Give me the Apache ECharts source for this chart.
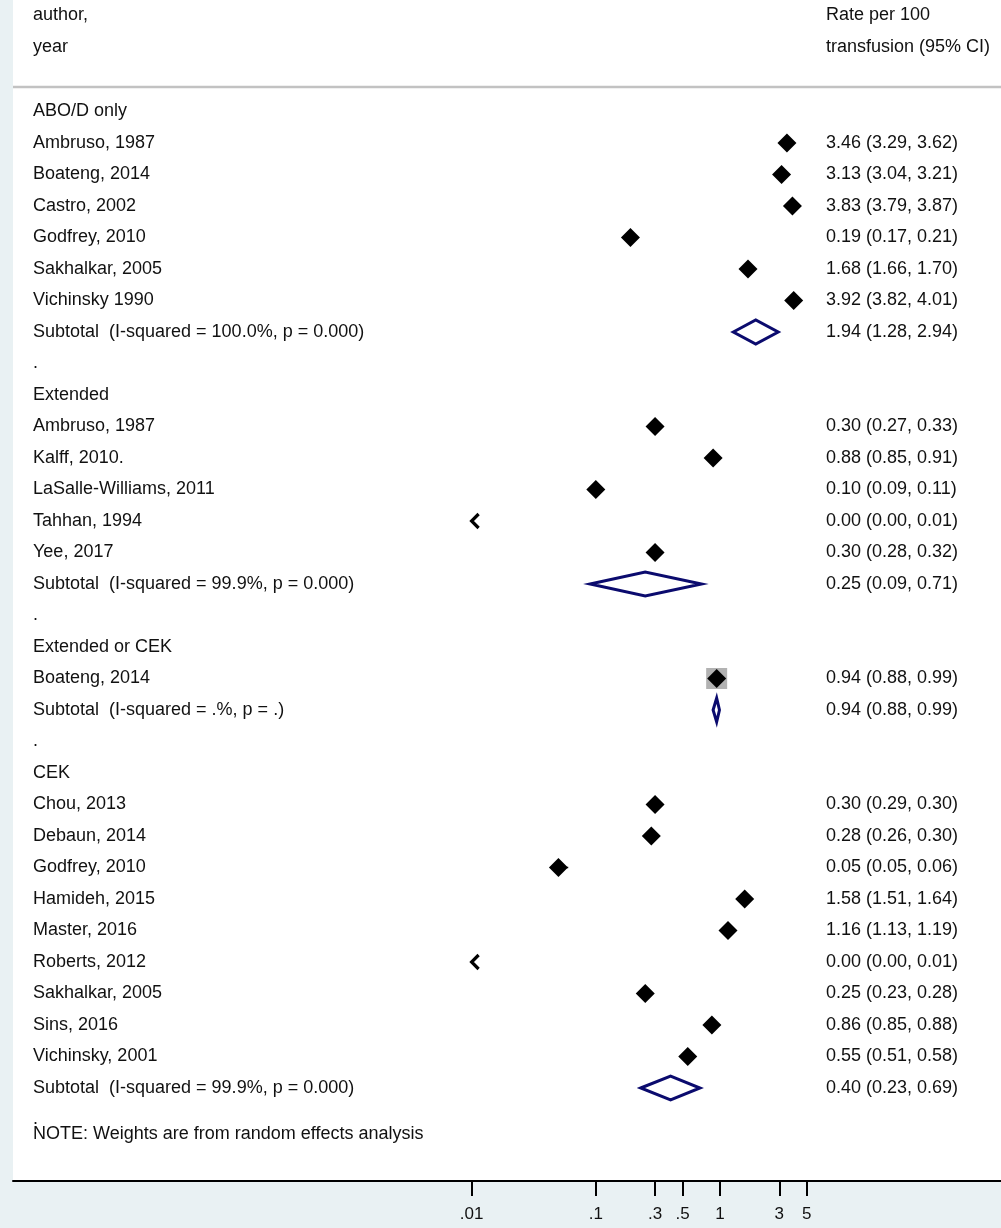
<!DOCTYPE html>
<html><head><meta charset="utf-8">
<script src="https://cdn.jsdelivr.net/npm/echarts@6/dist/echarts.min.js"></script>
<style>html,body{margin:0;padding:0;background:#e9f1f3}#c{width:1001px;height:1228px}</style>
</head><body><div id="c"></div>
<script>
// ---------------- DATA ----------------
const groupNames = ['ABO/D only', 'Extended', 'Extended or CEK', 'CEK'];
const studyLabels = [
  'Ambruso, 1987', 'Boateng, 2014', 'Castro, 2002', 'Godfrey, 2010', 'Sakhalkar, 2005', 'Vichinsky 1990',
  'Ambruso, 1987', 'Kalff, 2010.', 'LaSalle-Williams, 2011', 'Tahhan, 1994', 'Yee, 2017',
  'Boateng, 2014',
  'Chou, 2013', 'Debaun, 2014', 'Godfrey, 2010', 'Hamideh, 2015', 'Master, 2016', 'Roberts, 2012',
  'Sakhalkar, 2005', 'Sins, 2016', 'Vichinsky, 2001'
];
const studyGroup = [0,0,0,0,0,0, 1,1,1,1,1, 2, 3,3,3,3,3,3,3,3,3];
const studyEst = [3.46, 3.13, 3.83, 0.19, 1.68, 3.92, 0.30, 0.88, 0.10, 0.00, 0.30, 0.94, 0.30, 0.28, 0.05, 1.58, 1.16, 0.00, 0.25, 0.86, 0.55];
const studyLo  = [3.29, 3.04, 3.79, 0.17, 1.66, 3.82, 0.27, 0.85, 0.09, 0.00, 0.28, 0.88, 0.29, 0.26, 0.05, 1.51, 1.13, 0.00, 0.23, 0.85, 0.51];
const studyHi  = [3.62, 3.21, 3.87, 0.21, 1.70, 4.01, 0.33, 0.91, 0.11, 0.01, 0.32, 0.99, 0.30, 0.30, 0.06, 1.64, 1.19, 0.01, 0.28, 0.88, 0.58];
const subtotalLabels = [
  'Subtotal  (I-squared = 100.0%, p = 0.000)',
  'Subtotal  (I-squared = 99.9%, p = 0.000)',
  'Subtotal  (I-squared = .%, p = .)',
  'Subtotal  (I-squared = 99.9%, p = 0.000)'
];
const subtotalEst = [1.94, 0.25, 0.94, 0.40];
const subtotalLo  = [1.28, 0.09, 0.88, 0.23];
const subtotalHi  = [2.94, 0.71, 0.99, 0.69];
const tickValues = [0.01, 0.1, 0.3, 0.5, 1, 3, 5];
const tickLabels = ['.01', '.1', '.3', '.5', '1', '3', '5'];
const headerLeft = ['author,', 'year'];
const headerRight = ['Rate per 100', 'transfusion (95% CI)'];
const noteText = 'NOTE: Weights are from random effects analysis';

// ---------------- LAYOUT ----------------
const W = 1001, PLOT_LEFT = 13, AXIS_Y = 1181;
const X_ONE = 720, DECADE = 124.2;       // pixel of value 1, pixels per decade
const ROW0 = 111.5, ROW_H = 31.5;        // first row center, row spacing
const LEFT_TX = 33, RIGHT_TX = 826;
const NOTE_ROW_SHIFT = 0.47;
const HEADER_ROWS = [-3.06, -2.04];
const FONT = 'Liberation Sans, Arial, Helvetica, sans-serif';
const FS = 18;
const TXT = '#111111';
const NAVY = '#0b0b6e';

const xMin = Math.pow(10, (PLOT_LEFT - X_ONE) / DECADE);
const xMax = Math.pow(10, (W - X_ONE) / DECADE);
const yMin = -ROW0 / ROW_H;
const yMax = (AXIS_Y - ROW0) / ROW_H;
const axisFloor = tickValues[0];

// ---------------- BUILD ROWS ----------------
const fmt = v => v.toFixed(2);
const texts = [];
const studyPts = [];
const arrows = [];
const boxes = [];
const subPts = [];
texts.push({row: HEADER_ROWS[0], col: 0, text: headerLeft[0]});
texts.push({row: HEADER_ROWS[1], col: 0, text: headerLeft[1]});
texts.push({row: HEADER_ROWS[0], col: 1, text: headerRight[0]});
texts.push({row: HEADER_ROWS[1], col: 1, text: headerRight[1]});
let r = 0;
groupNames.forEach((g, gi) => {
  texts.push({row: r, col: 0, text: g}); r++;
  const members = studyGroup.map((s, i) => s === gi ? i : -1).filter(i => i >= 0);
  members.forEach(i => {
    texts.push({row: r, col: 0, text: studyLabels[i]});
    texts.push({row: r, col: 1, text: `${fmt(studyEst[i])} (${fmt(studyLo[i])}, ${fmt(studyHi[i])})`});
    if (studyEst[i] >= axisFloor) {
      studyPts.push([studyEst[i], r, Math.max(studyLo[i], axisFloor), studyHi[i]]);
      if (members.length === 1) boxes.push([studyEst[i], r]);
    }
    if (studyLo[i] < axisFloor) arrows.push([axisFloor, r]);
    r++;
  });
  texts.push({row: r, col: 0, text: subtotalLabels[gi]});
  texts.push({row: r, col: 1, text: `${fmt(subtotalEst[gi])} (${fmt(subtotalLo[gi])}, ${fmt(subtotalHi[gi])})`});
  subPts.push([subtotalEst[gi], r, subtotalLo[gi], subtotalHi[gi]]);
  r++;
  texts.push({row: r, col: 0, text: '.'}); r++;
});
texts.push({row: r - 1 + NOTE_ROW_SHIFT, col: 0, text: noteText});

// ---------------- CHART ----------------
const chart = echarts.init(document.getElementById('c'), null, {renderer: 'canvas'});
const tickLabelFor = v => {
  let best = 0, bd = Infinity;
  tickValues.forEach((t, i) => { const d = Math.abs(Math.log10(v) - Math.log10(t)); if (d < bd) { bd = d; best = i; } });
  return tickLabels[best];
};
chart.setOption({
  backgroundColor: '#e9f1f3',
  animation: false,
  grid: {left: PLOT_LEFT, right: 0, top: 0, height: AXIS_Y, show: true, backgroundColor: '#ffffff', borderWidth: 0, outerBoundsMode: 'none', containLabel: false},
  xAxis: {
    type: 'log', logBase: 10, min: xMin, max: xMax,
    axisLine: {show: true, onZero: false, lineStyle: {color: '#000', width: 2}},
    axisTick: {show: true, customValues: tickValues, length: 15, lineStyle: {color: '#000', width: 2}},
    axisLabel: {show: true, customValues: tickValues, formatter: v => tickLabelFor(v), color: TXT, fontSize: 17, fontFamily: FONT, margin: 25, hideOverlap: false},
    splitLine: {show: false}, minorTick: {show: false}, minorSplitLine: {show: false}
  },
  yAxis: {type: 'value', inverse: true, min: yMin, max: yMax, show: false, splitLine: {show: false}},
  graphic: [{type: 'line', z: 10, shape: {x1: PLOT_LEFT, y1: 87, x2: W, y2: 87}, style: {stroke: '#c2c2c2', lineWidth: 2.5}}],
  series: [
    { // CI lines
      type: 'custom', z: 2, data: studyPts,
      renderItem: (p, api) => {
        const a = api.coord([api.value(2), api.value(1)]);
        const b = api.coord([api.value(3), api.value(1)]);
        return {type: 'line', shape: {x1: a[0], y1: a[1], x2: b[0], y2: b[1]}, style: {stroke: '#000', lineWidth: 1.5}};
      }
    },
    { // weight boxes
      type: 'scatter', z: 3, data: boxes, symbol: 'rect', symbolSize: 21,
      itemStyle: {color: '#b2b2b2', opacity: 1}, silent: true
    },
    { // study estimates
      type: 'scatter', z: 4, data: studyPts.map(d => [d[0], d[1]]), symbol: 'diamond', symbolSize: 19,
      itemStyle: {color: '#000', opacity: 1}, silent: true
    },
    { // truncated CI arrows
      type: 'custom', z: 4, data: arrows,
      renderItem: (p, api) => {
        const c = api.coord([api.value(0), api.value(1)]);
        return {type: 'polyline', shape: {points: [[c[0] + 7, c[1] - 7], [c[0], c[1]], [c[0] + 7, c[1] + 7]]}, style: {stroke: '#000', lineWidth: 3.2, fill: null}};
      }
    },
    { // subtotal diamonds
      type: 'custom', z: 5, data: subPts,
      renderItem: (p, api) => {
        const y = api.value(1);
        const e = api.coord([api.value(0), y]);
        const lo = api.coord([api.value(2), y]);
        const hi = api.coord([api.value(3), y]);
        const h = 12;
        return {type: 'polygon', shape: {points: [[lo[0], e[1]], [e[0], e[1] - h], [hi[0], e[1]], [e[0], e[1] + h]]}, style: {stroke: NAVY, lineWidth: 3, fill: null}};
      }
    },
    { // texts
      type: 'custom', z: 6, data: texts.map(t => [1, t.row, t.col]),
      renderItem: (p, api) => {
        const c = api.coord([1, api.value(1)]);
        const t = texts[p.dataIndex];
        return {type: 'text', x: t.col === 0 ? LEFT_TX : RIGHT_TX, y: c[1],
          style: {text: t.text, fill: TXT, fontSize: FS, fontFamily: FONT, verticalAlign: 'middle', align: 'left'}};
      }
    }
  ]
});
</script></body></html>
